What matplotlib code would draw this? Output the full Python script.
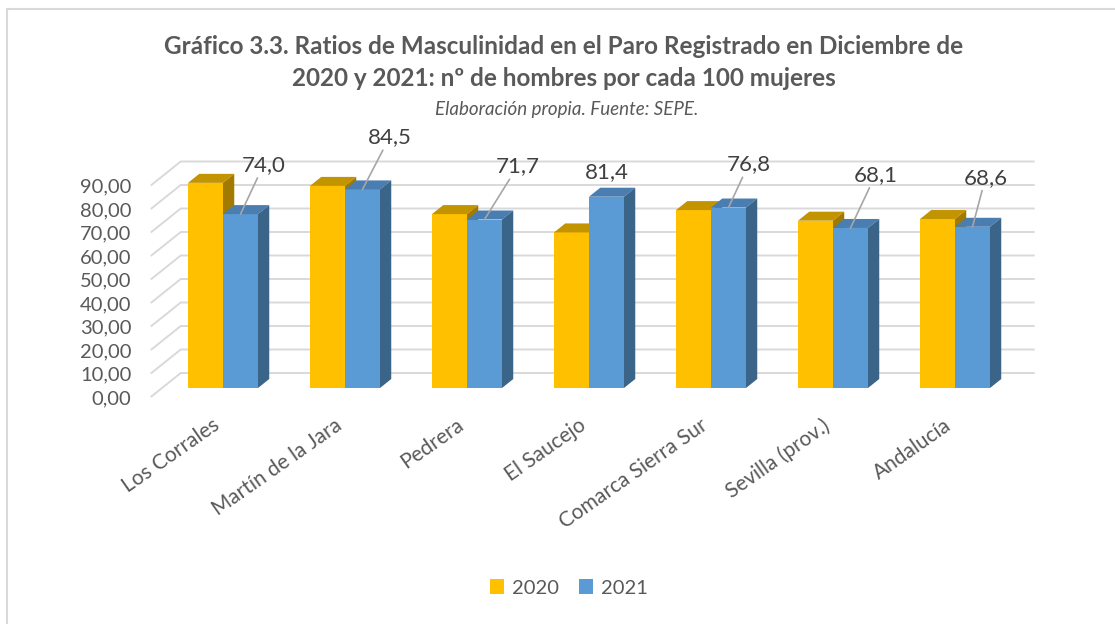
import numpy as np
import matplotlib.pyplot as plt
from matplotlib.patches import Polygon, Rectangle, Patch

# data
categories = ['Los Corrales', 'Martín de la Jara', 'Pedrera', 'El Saucejo',
              'Comarca Sierra Sur', 'Sevilla (prov.)', 'Andalucía']
ratio_2020 = [87.3, 86.0, 74.0, 66.2, 75.7, 71.2, 71.9]
ratio_2021 = [74.0, 84.5, 71.7, 81.4, 76.8, 68.1, 68.6]
y_ticks = [0, 10, 20, 30, 40, 50, 60, 70, 80, 90]
series_names = ['2020', '2021']

# label placement (pixels from the top of the 2021 bar), leader line or not
label_offsets = [(23, 49), (27, 52), (33, 53), (0, 25), (20, 43), (25, 53), (13, 49)]
label_leader = [True, True, True, False, True, True, True]

plt.rcParams['font.family'] = ['Lato', 'DejaVu Sans']

W, H = 1115, 624
fig = plt.figure(figsize=(W / 100, H / 100), dpi=100)
fig.patch.set_facecolor('white')

# front plane: x=-0.5..6.5 (122 px per category), y=0..90 (2.35 px per unit)
left_px, bottom_px, top_px = 150.75, 397, 185.5
ax = fig.add_axes([left_px / W, 1 - bottom_px / H, 7 * 122 / W, (bottom_px - top_px) / H])
ax.set_xlim(-0.5, 6.5)
ax.set_ylim(0, 90)
px_per_unit = (bottom_px - top_px) / 90

# depth of the 3D box (from front plane to back wall)
DX = 30 / 122
DY = 24 / px_per_unit


def proj(x, y, d):
    return x + d * DX, y + d * DY


grid_col = '#D9D9D9'
for v in y_ticks:
    x0, y0 = proj(-0.5, v, 0)
    x1, y1 = proj(-0.5, v, 1)
    x2, y2 = proj(6.5, v, 1)
    ax.plot([x0, x1, x2], [y0, y1, y2], color=grid_col, lw=1.4, zorder=1,
            clip_on=False, solid_capstyle='butt')

bw = 35 / 122
d0, d1 = 0.375, 0.75
front_cols = ['#FFC000', '#5B9BD5']
top_cols = ['#C29400', '#4A7DB0']
side_cols = ['#A37A00', '#3B6489']

x = np.arange(len(categories))
z = 2
for i in range(len(categories)):
    for s, vals in enumerate([ratio_2020, ratio_2021]):
        v = vals[i]
        xl = x[i] - bw + s * bw
        xr = xl + bw
        fx, fy = proj(xl, 0, d0)
        ax.bar(fx, v, width=bw, bottom=fy, align='edge', color=front_cols[s],
               edgecolor='none', zorder=z, clip_on=False)
        top = [proj(xl, v, d0), proj(xr, v, d0), proj(xr, v, d1), proj(xl, v, d1)]
        side = [proj(xr, 0, d0), proj(xr, v, d0), proj(xr, v, d1), proj(xr, 0, d1)]
        ax.add_patch(Polygon(top, closed=True, facecolor=top_cols[s], edgecolor='none',
                             zorder=z, clip_on=False))
        ax.add_patch(Polygon(side, closed=True, facecolor=side_cols[s], edgecolor='none',
                             zorder=z, clip_on=False))
        z += 1

# data labels of 2021
for i, v in enumerate(ratio_2021):
    ax_x, ax_y = proj(x[i] + bw / 2, v, d0)
    props = None
    if label_leader[i]:
        props = dict(arrowstyle='-', color='#A6A6A6', lw=1.2, shrinkA=0, shrinkB=0)
    ax.annotate(f'{v:.1f}'.replace('.', ','), xy=(ax_x, ax_y),
                xytext=label_offsets[i], textcoords='offset pixels',
                ha='center', va='center', fontsize=16, color='#404040',
                arrowprops=props, zorder=50, annotation_clip=False)

ax.set_yticks(y_ticks, labels=[f'{v:.2f}'.replace('.', ',') for v in y_ticks])
ax.set_xticks(x, labels=categories)
ax.tick_params(axis='y', length=0, pad=14, labelsize=14.5, labelcolor='#595959')
ax.tick_params(axis='x', length=0, pad=13, labelsize=15, labelcolor='#595959')
for lab in ax.get_xticklabels():
    lab.set_rotation(35)
    lab.set_ha('right')
    lab.set_va('top')
    lab.set_rotation_mode('anchor')
for sp in ax.spines.values():
    sp.set_visible(False)
ax.patch.set_alpha(0)

fig.text(564 / W, 1 - 47 / H,
         'Gráfico 3.3. Ratios de Masculinidad en el Paro Registrado en Diciembre de',
         ha='center', va='center', fontsize=17.5, fontweight='bold', color='#595959')
fig.text(564 / W, 1 - 79 / H, '2020 y 2021: nº de hombres por cada 100 mujeres',
         ha='center', va='center', fontsize=17.5, fontweight='bold', color='#595959')
fig.text(567 / W, 1 - 110 / H, 'Elaboración propia. Fuente: SEPE.',
         ha='center', va='center', fontsize=13.5, style='italic', color='#595959')

handles = [Patch(facecolor=front_cols[0]), Patch(facecolor=front_cols[1])]
fig.legend(handles, series_names, loc='center', bbox_to_anchor=(569 / W, 1 - 588 / H),
           ncol=2, frameon=False, fontsize=14.5, handlelength=0.7, handleheight=0.7,
           handletextpad=0.4, columnspacing=1.0, labelcolor='#595959')

fig.patches.append(Rectangle((7 / W, -0.1), 1.2, 1.1 - 9 / H, transform=fig.transFigure,
                             fill=False, edgecolor='#D9D9D9', lw=1.5))

plt.savefig('out.png', dpi=100)
